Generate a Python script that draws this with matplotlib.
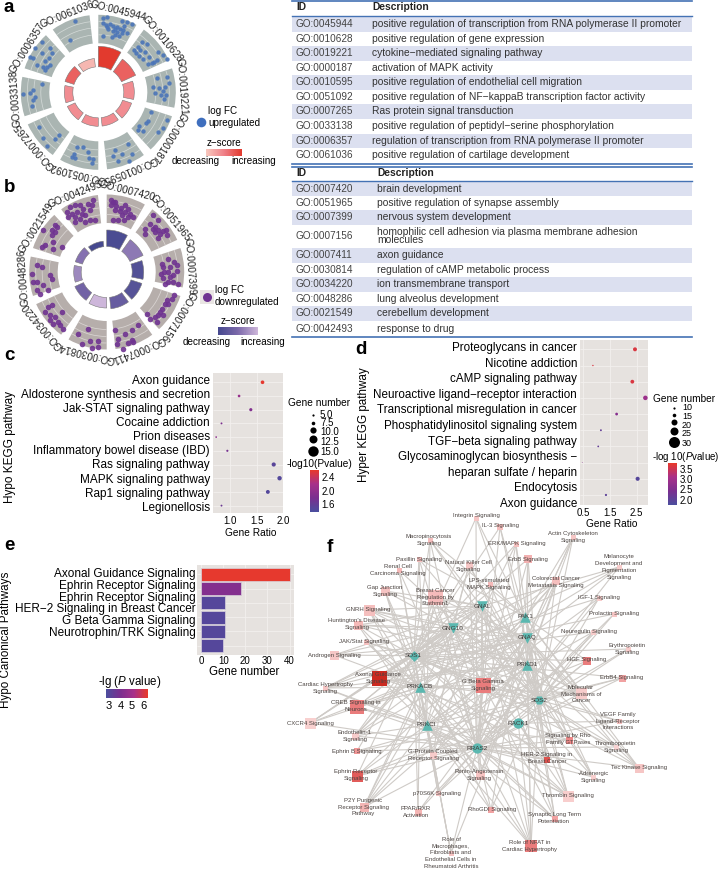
import numpy as np
import matplotlib
matplotlib.use('Agg')
import matplotlib.pyplot as plt
from matplotlib.patches import Wedge, Arc, Rectangle
from matplotlib.colors import LinearSegmentedColormap, Normalize
from matplotlib.cm import ScalarMappable

plt.rcParams['font.family'] = ['Liberation Sans', 'DejaVu Sans']
plt.rcParams['mathtext.fontset'] = 'custom'
plt.rcParams['mathtext.it'] = 'Liberation Sans:italic'
plt.rcParams['mathtext.rm'] = 'Liberation Sans'

# ---- GO tables
a_ids = ['GO:0045944', 'GO:0010628', 'GO:0019221', 'GO:0000187', 'GO:0010595',
         'GO:0051092', 'GO:0007265', 'GO:0033138', 'GO:0006357', 'GO:0061036']
a_desc = ['positive regulation of transcription from RNA polymerase II promoter',
          'positive regulation of gene expression',
          'cytokine\u2212mediated signaling pathway',
          'activation of MAPK activity',
          'positive regulation of endothelial cell migration',
          'positive regulation of NF\u2212kappaB transcription factor activity',
          'Ras protein signal transduction',
          'positive regulation of peptidyl\u2212serine phosphorylation',
          'regulation of transcription from RNA polymerase II promoter',
          'positive regulation of cartilage development']
b_ids = ['GO:0007420', 'GO:0051965', 'GO:0007399', 'GO:0007156', 'GO:0007411',
         'GO:0030814', 'GO:0034220', 'GO:0048286', 'GO:0021549', 'GO:0042493']
b_desc = ['brain development',
          'positive regulation of synapse assembly',
          'nervous system development',
          'homophilic cell adhesion via plasma membrane adhesion\nmolecules',
          'axon guidance',
          'regulation of cAMP metabolic process',
          'ion transmembrane transport',
          'lung alveolus development',
          'cerebellum development',
          'response to drug']

# ---- GO circles: bar height, z-score, dots (read in 3x crop coordinates)
a_bar = [46, 41, 36, 35, 34, 34, 34, 34, 35, 34]
a_z = [1.0, 0.72, 0.42, 0.42, 0.42, 0.42, 0.42, 0.42, 0.72, 0.12]
a_dot_x = [310, 322, 310, 318, 330, 340, 350, 360, 370, 380, 365, 395, 325, 338, 350, 365, 380, 310, 335, 345, 358, 320, 345, 372,
           425, 440, 415, 402, 420, 435, 418, 430, 448, 462, 455, 475, 490, 500, 445, 470, 408,
           500, 470, 460, 478, 495, 490, 498, 482, 492, 465, 508,
           452, 437, 418, 415, 430, 445, 488, 475, 500,
           385, 365, 340, 395, 388, 355, 345,
           232, 248, 222, 215, 225, 265, 280, 275, 268,
           118, 178, 165, 140, 128,
           125, 100, 90, 105, 70, 100, 95,
           125, 105, 150, 155, 148, 135, 125, 90, 110, 135, 128, 100, 140, 150,
           225, 210]
a_dot_y = [55, 52, 68, 75, 72, 78, 82, 88, 90, 65, 62, 72, 88, 92, 96, 100, 100, 108, 112, 105, 108, 80, 88, 78,
           125, 132, 140, 150, 150, 155, 168, 178, 170, 185, 190, 155, 165, 178, 192, 180, 158,
           232, 235, 262, 265, 262, 272, 285, 285, 298, 280, 250,
           337, 370, 378, 390, 392, 362, 385, 395, 360,
           432, 462, 468, 462, 482, 482, 450,
           440, 442, 462, 470, 475, 455, 478, 490, 475,
           382, 405, 418, 438, 415,
           252, 270, 278, 290, 283, 300, 318,
           127, 145, 145, 160, 175, 183, 160, 170, 195, 210, 200, 175, 200, 195,
           62, 120]

b_bar = [42, 40, 37, 37, 37, 36, 35, 33, 33, 31]
b_z = [0.05, 0.6, 0.12, 0.15, 0.3, 1.0, 0.4, 0.7, 0.55, 0.0]
b_dot_x = [333, 345, 332, 348, 362, 375, 385, 345, 360, 375, 390, 365, 385, 340, 355, 372, 398, 338,
           458, 475, 435, 450, 465, 458, 475, 465, 488, 498, 475, 480, 500, 435,
           505, 522, 530, 510, 485, 490, 482, 488, 505, 520, 530, 510, 520, 535, 495, 505, 492,
           522, 515, 500, 495, 485, 490, 475, 465, 440, 450, 470, 505, 480,
           375, 395, 415, 345, 355, 400, 370, 350, 385, 395,
           270, 275, 295, 293, 245, 235, 265,
           145, 155, 135, 150, 165, 185, 175, 190, 180, 160, 150,
           110, 95, 125, 150, 155, 100, 110, 130, 110, 120, 145,
           165, 155, 170, 165, 130, 155, 160, 135, 125, 160, 185,
           210, 225, 240, 250, 265, 275, 270, 200, 215, 230, 245, 255, 205, 225, 240, 255, 270, 285, 225, 280]
b_dot_y = [600, 605, 615, 618, 622, 615, 625, 630, 632, 635, 640, 645, 650, 658, 658, 660, 650, 605,
           645, 660, 685, 672, 680, 685, 690, 695, 692, 688, 712, 700, 705, 700,
           775, 785, 795, 800, 790, 800, 820, 832, 815, 825, 812, 830, 845, 850, 850, 845, 815,
           885, 895, 900, 912, 925, 945, 945, 950, 942, 955, 965, 910, 935,
           1000, 990, 975, 990, 1015, 1025, 1045, 1030, 1028, 1020,
           1023, 1042, 1040, 1023, 1032, 1000, 985,
           920, 915, 935, 945, 950, 935, 965, 985, 975, 970, 960,
           795, 820, 800, 825, 835, 845, 845, 855, 870, 880, 870,
           675, 690, 680, 695, 690, 705, 725, 735, 740, 745, 740,
           620, 615, 615, 625, 610, 615, 630, 635, 640, 635, 640, 645, 650, 650, 655, 665, 660, 660, 665, 600]

# ---- panel c
c_terms = ['Axon guidance', 'Aldosterone synthesis and secretion', 'Jak-STAT signaling pathway',
           'Cocaine addiction', 'Prion diseases', 'Inflammatory bowel disease (IBD)',
           'Ras signaling pathway', 'MAPK signaling pathway', 'Rap1 signaling pathway', 'Legionellosis']
c_ratio = [1.61, 1.17, 1.39, 0.84, 0.74, 0.95, 1.82, 1.93, 1.71, 0.84]
c_genes = [12.5, 9.1, 10.8, 6.5, 5.8, 7.4, 14.2, 15.0, 13.3, 6.5]
c_logp = [2.6, 2.05, 1.85, 1.8, 1.95, 1.75, 1.5, 1.45, 1.45, 1.65]
c_size_ticks = ['5.0', '7.5', '10.0', '12.5', '15.0']

# ---- panel d
d_labels = ['Proteoglycans in cancer', 'Nicotine addiction', 'cAMP signaling pathway',
            'Neuroactive ligand\u2212receptor interaction', 'Transcriptional misregulation in cancer',
            'Phosphatidylinositol signaling system', 'TGF\u2212beta signaling pathway',
            'Glycosaminoglycan biosynthesis \u2212', 'heparan sulfate / heparin',
            'Endocytosis', 'Axon guidance']
d_ratio = [2.44, 0.86, 2.34, 2.83, 1.75, 1.16, 1.06, 0.46, 2.54, 1.35]
d_genes = [27, 9.5, 26, 31, 19, 13, 12, 5, 28, 15]
d_logp = [3.6, 3.6, 3.6, 2.9, 2.6, 2.1, 2.1, 2.6, 1.9, 2.0]
d_size_ticks = ['10', '15', '20', '25', '30']

# ---- panel e
e_terms = ['Axonal Guidance Signaling', 'Ephrin Receptor Signaling', 'Ephrin Receptor Signaling',
           'HER\u22122 Signaling in Breast Cancer', 'G Beta Gamma Signaling', 'Neurotrophin/TRK Signaling']
e_genes = [40, 18, 11, 11, 11, 10]
e_logp = [6.3, 4.2, 3.0, 3.0, 3.0, 3.0]

# ---- panel f: gene nodes
gene_names = ['GNAL', 'PAK1', 'GNG10', 'GNAQ', 'SOS1', 'PRKD1', 'PRKACB', 'SOS2', 'PRKCI', 'RACK1', 'RRAS2']
gene_x = [482, 525, 453, 527, 413.7, 527, 420, 539, 426.7, 518.3, 477]
gene_y = [606, 617, 628, 638, 655.7, 665, 687, 700.3, 725, 723.3, 748]
gene_mark = ['v', '^', 'v', 'v', 'D', '^', '^', 'H', '^', 'o', 'o']

# ---- panel f: pathway nodes. links = letters of gene_names order (A=GNAL ... K=RRAS2)
path_names = ['Integrin Signaling', 'IL-3 Signaling', 'Macropinocytosis\nSignaling', 'Actin Cytoskeleton\nSignaling',
              'ERK/MAPK Signaling', 'ErbB Signaling', 'Paxillin Signaling', 'Renal Cell\nCarcinoma Signaling',
              'Natural Killer Cell\nSignaling', 'Melanocyte\nDevelopment and\nPigmentation\nSignaling',
              'Colorectal Cancer\nMetastasis Signaling', 'LPS-stimulated\nMAPK Signaling', 'Gap Junction\nSignaling',
              'Breast Cancer\nRegulation by\nStathmin1', 'IGF-1 Signaling', 'GNRH Signaling', 'Prolactin Signaling',
              "Huntington's Disease\nSignaling", 'Neuregulin Signaling', 'JAK/Stat Signaling',
              'Erythropoietin\nSignaling', 'Androgen Signaling', 'HGF Signaling', 'ErbB4 Signaling',
              'Axonal Guidance\nSignaling', 'G Beta Gamma\nSignaling', 'Cardiac Hypertrophy\nSignaling',
              'Molecular\nMechanisms of\nCancer', 'CREB Signaling in\nNeurons', 'CXCR4 Signaling',
              'Endothelin-1\nSignaling', 'Ephrin B Signaling', 'G-Protein Coupled\nReceptor Signaling',
              'Ephrin Receptor\nSignaling', 'Renin-Angiotensin\nSignaling', 'p70S6K Signaling',
              'P2Y Purigenic\nReceptor Signaling\nPathway', 'PPAR/RXR\nActivation', 'RhoGDI Signaling',
              'Thrombin Signaling', 'Synaptic Long Term\nPotentiation', 'Role of NFAT in\nCardiac Hypertrophy',
              'Role of\nMacrophages,\nFibroblasts and\nEndothelial Cells in\nRheumatoid Arthritis',
              '-Adrenergic\nSignaling', 'Tec Kinase Signaling', 'HER-2 Signaling in\nBreast Cancer',
              'Signaling by Rho\nFamily GTPases', 'Thrombopoietin\nSignaling', 'VEGF Family\nLigand-Receptor\nInteractions']
path_x = [476, 500, 430, 573, 516, 528, 419, 399, 469, 619, 556, 490, 385, 435, 599, 369, 614, 358, 593, 366, 628,
          334, 587, 622, 379, 483, 325, 581, 357, 310, 355, 357, 433, 357, 480, 438, 364, 418, 491, 568, 555, 531,
          451, 593, 639, 547, 569, 616, 619]
path_y = [518, 527, 540, 537, 544, 559, 559, 570, 565, 567, 581, 584, 591, 597, 598, 610, 614, 625, 632, 642, 649,
          655, 661, 678, 678, 685, 688, 693, 707, 723, 736, 751, 755, 776, 775, 793, 807, 812, 810, 796, 819, 846,
          853, 777, 768, 760, 740, 747, 721]
path_lx = [476, 501, 429, 573, 517, 528, 419, 398, 468, 619, 556, 489, 385, 435, 599, 368, 614, 357, 589, 364, 627,
           334, 587, 622, 378, 483, 325, 581, 356, 310, 355, 357, 433, 356, 479, 437, 363, 416, 492, 568, 554, 530,
           451, 593, 639, 547, 568, 616, 618]
path_ly = [515, 526, 540, 537, 544, 559, 559, 570, 566, 567, 582, 584, 591, 597, 598, 610, 614, 624, 632, 642, 649,
           655, 660, 677, 678, 685, 688, 694, 706, 723, 736, 751, 755, 775, 775, 793, 807, 812, 810, 796, 818, 846,
           853, 777, 768, 758, 739, 747, 721]
path_side = [5, 6, 5, 5, 5, 8, 5, 5, 7, 5, 8, 5, 9, 15, 5, 11, 5, 9, 5, 5, 5, 9, 8, 7, 15, 15, 5, 11, 14, 11, 7, 6,
             7, 11, 9, 5, 9, 7, 6, 11, 6, 12, 5, 5, 9, 6, 7, 5, 5]
path_score = [0.2, 0.25, 0.25, 0.2, 0.25, 0.35, 0.25, 0.3, 0.2, 0.15, 0.25, 0.3, 0.22, 0.28, 0.15, 0.25, 0.2, 0.3,
              0.15, 0.25, 0.15, 0.2, 0.6, 0.42, 1.0, 0.6, 0.2, 0.15, 0.6, 0.12, 0.15, 0.48, 0.15, 0.75, 0.22, 0.2,
              0.33, 0.33, 0.42, 0.14, 0.42, 0.6, 0.22, 0.14, 0.2, 0.8, 0.55, 0.1, 0.25]
path_links = ['BEHK', 'EHKB', 'BEHKIF', 'BHFKD', 'EHKIF', 'EHKBF', 'BEHKI', 'EHKG', 'EHKIFC', 'AGDKE', 'EHKBGIF', 'EHKB',
              'CAGDEI', 'ACDGEHK', 'EHKI', 'ACDGEHIF', 'EHK', 'ACGDEIF', 'EHKI', 'EHKG', 'EHK', 'ACDEG', 'EHKBI', 'EHKI',
              'ABCDEFGHIJK', 'ABCDEFGHIK', 'ACDGIFEK', 'ABCDEFGHK', 'ACDGIFK', 'ACDEGK', 'ACDGIEK', 'EHKJ', 'ACDGIFK',
              'EHKJIB', 'ADGIFK', 'EHKI', 'ACDGIFK', 'GKFE', 'BEHKI', 'ACDGEHIK', 'ACGDKIF', 'ACDGHIFJK', 'GKFIE',
              'ACDGKF', 'EHKFDB', 'EHKJIB', 'BKHJI', 'EHKD', 'EHKJ']

panel_bg = '#E6E2DF'
grid_col = '#F3F0EE'
line_blue = '#4472B4'
shade_blue = '#DCE0F0'
hot_cmap = LinearSegmentedColormap.from_list('hot', ['#4B4E9E', '#7A2F8F', '#A8308A', '#E8392B'])
red_cmap = LinearSegmentedColormap.from_list('reds', ['#F8C8BE', '#F08088', '#E23A2E'])
pur_cmap = LinearSegmentedColormap.from_list('purs', ['#46498F', '#7D6AAB', '#CDB6DA'])
node_cmap = LinearSegmentedColormap.from_list('nodes', ['#FAE0DE', '#F4B4B4', '#E86E6E', '#CC2A20'])

fig = plt.figure(figsize=(7.2, 8.76), dpi=100)
W, H = 720.0, 876.0


def px_rect(l, t, r, b):
    return [l / W, 1 - b / H, (r - l) / W, (b - t) / H]


page = fig.add_axes([0, 0, 1, 1], zorder=0)
page.set_xlim(0, W)
page.set_ylim(H, 0)
page.axis('off')

# panel letters
for ch, x, y in [('a', 9, 8), ('b', 10, 188), ('c', 9, 356), ('d', 361, 350), ('e', 9, 545), ('f', 330, 548)]:
    page.text(x, y, ch, fontsize=13.5, fontweight='bold', ha='center', va='center')


def draw_table(ids, desc, top_line, head_line, bounds, head_y, desc_x):
    for i in range(len(ids)):
        if i % 2 == 0:
            page.add_patch(Rectangle((292, bounds[i]), 400, bounds[i + 1] - bounds[i], fc=shade_blue, ec='none'))
        cy = (bounds[i] + bounds[i + 1]) / 2
        page.text(296, cy, ids[i], fontsize=7.2, color='#444444', va='center')
        page.text(desc_x, cy, desc[i], fontsize=7.4, color='#333333', va='center', linespacing=0.8)
    page.text(296, head_y, 'ID', fontsize=7.4, fontweight='bold', va='center', color='#222222')
    page.text(desc_x, head_y, 'Description', fontsize=7.4, fontweight='bold', va='center', color='#222222')
    page.plot([292, 692], [top_line, top_line], color=line_blue, lw=1.2)
    page.plot([292, 692], [head_line, head_line], color=line_blue, lw=1.0)


draw_table(a_ids, a_desc, 1.2, 15.5, [16, 31.5, 46, 60.5, 75, 89.5, 104, 118.5, 133.5, 148, 162.5], 7.5, 372)
draw_table(b_ids, b_desc, 166.8, 181, [181.5, 195.5, 210, 224.5, 247.5, 262.5, 277, 291.5, 306, 321, 336], 172.7, 377)
page.plot([292, 692], [163.6, 163.6], color=line_blue, lw=1.2)
page.plot([292, 692], [336.7, 336.7], color=line_blue, lw=1.2)


def draw_circle(cx, cy, ids, bars, zs, dots_x, dots_y, zx, zy, ring_col, arc_col, dot_col, dot_s, cmap):
    R = 92
    ax = fig.add_axes(px_rect(cx - R, cy - R, cx + R, cy + R), zorder=2)
    ax.set_xlim(-R, R)
    ax.set_ylim(-R, R)
    ax.axis('off')
    ax.patch.set_alpha(0)
    for i in range(10):
        a0 = 36 * i
        a1 = a0 + 29.5
        ax.add_patch(Wedge((0, 0), 77.5, 90 - a1, 90 - a0, width=28.5, fc=ring_col, ec='none'))
        for rr in [57.5, 64.5, 71]:
            ax.add_patch(Arc((0, 0), 2 * rr, 2 * rr, theta1=90 - a1, theta2=90 - a0, color=arc_col, lw=0.55))
        ax.add_patch(Wedge((0, 0), bars[i], 90 - a1, 90 - a0, width=bars[i] - 25.5, fc=cmap(zs[i]), ec='#7a7a7a', lw=0.4))
        mid = np.radians(a0 + 14)
        ax.text(83.5 * np.sin(mid), 83.5 * np.cos(mid), ids[i], rotation=-(a0 + 14), rotation_mode='anchor',
                ha='center', va='center', fontsize=7.2, color='#222222')
    ax.scatter((np.array(dots_x) - zx) / 3, (zy - np.array(dots_y)) / 3, s=dot_s, color=dot_col, alpha=0.9, lw=0)


draw_circle(98.3, 92.3, a_ids, a_bar, a_z, a_dot_x, a_dot_y, 295, 277, '#AAB5B2', '#D2D8D6', '#4A74B8', 10, red_cmap)
draw_circle(106.7, 272, b_ids, b_bar, b_z, b_dot_x, b_dot_y, 320, 815, '#B6AEAB', '#DAD5D3', '#6F3391', 16, pur_cmap)

# circle legends
page.scatter([200.7], [121.7], s=48, color='#3F6FBE', lw=0)
page.text(208, 110.7, 'log FC', fontsize=7.1, va='center')
page.text(208, 123, 'upregulated', fontsize=7.1, va='center')
page.text(224, 142.7, 'z\u2212score', fontsize=7.1, va='center', ha='center')
page.text(196, 161, 'decreasing', fontsize=7.1, va='center', ha='center')
page.text(254, 161, 'increasing', fontsize=7.1, va='center', ha='center')
page.add_patch(Rectangle((200, 290), 14, 14, fc='#E9E5E3', ec='none'))
page.scatter([207], [297], s=42, color='#6F3391', lw=0, zorder=3)
page.text(215, 290, 'log FC', fontsize=7.1, va='center')
page.text(215, 302, 'downregulated', fontsize=7.1, va='center')
page.text(238, 321, 'z\u2212score', fontsize=7.1, va='center', ha='center')
page.text(207, 342, 'decreasing', fontsize=7.1, va='center', ha='center')
page.text(263, 342, 'increasing', fontsize=7.1, va='center', ha='center')
grad = np.linspace(0, 1, 64).reshape(1, -1)
for rect, cm in [(px_rect(206, 149, 241.7, 156), red_cmap), (px_rect(218, 327, 258, 335), pur_cmap)]:
    gx = fig.add_axes(rect, zorder=2)
    gx.imshow(grad, cmap=cm, aspect='auto')
    gx.axis('off')


def style_axes(ax, xt, xtl, xlim, ylim):
    ax.set_facecolor(panel_bg)
    for s in ax.spines.values():
        s.set_visible(False)
    ax.set_xlim(*xlim)
    ax.set_ylim(*ylim)
    ax.set_xticks(xt, xtl, fontsize=7)
    ax.grid(axis='x', color=grid_col, lw=0.6)
    ax.set_axisbelow(True)
    ax.tick_params(length=0, pad=2)


def colorbar(rect, lo, hi, ticks, orient='vertical', fs=7):
    cax = fig.add_axes(rect, zorder=2)
    sm = ScalarMappable(Normalize(lo, hi), hot_cmap)
    cb = fig.colorbar(sm, cax=cax, orientation=orient)
    cb.set_ticks(ticks)
    cb.ax.tick_params(length=0, labelsize=fs, pad=2)
    cb.outline.set_visible(False)
    return cb


# ---- panel c
axc = fig.add_axes(px_rect(212.7, 373.3, 283.3, 513.3), zorder=1)
style_axes(axc, [1.0, 1.5, 2.0], ['1.0', '1.5', '2.0'], (0.675, 2.0), (9.56, -0.655))
axc.hlines(range(10), 0.675, 2.0, color=grid_col, lw=0.6, zorder=1)
axc.scatter(c_ratio, range(10), s=10 * (np.array(c_genes) / 15) ** 2, c=c_logp, cmap=hot_cmap, vmin=1.37, vmax=2.62,
            lw=0, zorder=3, clip_on=False)
axc.set_yticks([i + (-9 + 1.2 * i) / 41.2 for i in range(10)], c_terms, fontsize=8.5)
page.text(10, 447, 'Hypo KEGG pathway', rotation=90, fontsize=8.5, ha='center', va='center')
page.text(250.7, 532.7, 'Gene Ratio', fontsize=7.3, ha='center', va='center')
page.text(288, 402.7, 'Gene number', fontsize=7.3, va='center')
for v, y, d in zip(c_size_ticks, [415, 423.3, 430, 439.3, 451], [2.2, 3.6, 6.2, 8, 10.4]):
    page.scatter([312.7], [y], s=(d * 0.72) ** 2, color='k', lw=0)
for v, y in zip(c_size_ticks, [415, 423.3, 432.3, 441.7, 451.7]):
    page.text(320, y, v, fontsize=7, va='center')
page.text(287, 464, '-log10(Pvalue)', fontsize=7.3, va='center')
colorbar(px_rect(310, 470, 319, 511.7), 1.37, 2.62, [1.6, 2.0, 2.4])

# ---- panel d
axd = fig.add_axes(px_rect(580, 340, 648.3, 505), zorder=1)
style_axes(axd, [0.5, 1.5, 2.5], ['0.5', '1.5', '2.5'], (0.375, 2.94), (9.62, -0.576))
axd.hlines(range(10), 0.375, 2.94, color=grid_col, lw=0.6, zorder=1)
axd.scatter(d_ratio, range(10), s=10 * (np.array(d_genes) / 30) ** 2, c=d_logp, cmap=hot_cmap, vmin=1.74, vmax=3.76,
            lw=0, zorder=3, clip_on=False)
axd.set_yticks([(50 + 46.8 * i - 58) / 48.6 for i in range(11)], d_labels, fontsize=8.4)
page.text(364, 425, 'Hyper KEGG pathway', rotation=90, fontsize=8.4, ha='center', va='center')
page.text(612, 524, 'Gene Ratio', fontsize=7.3, ha='center', va='center')
page.text(653, 399, 'Gene number', fontsize=7.3, va='center')
for v, y, d in zip(d_size_ticks, [408.3, 415.3, 422.3, 430.7, 442.3], [2.2, 3.6, 6, 8, 11]):
    page.scatter([674], [y], s=(d * 0.72) ** 2, color='k', lw=0)
for v, y in zip(d_size_ticks, [407.8, 416.3, 425, 434, 444]):
    page.text(682, y, v, fontsize=6.5, va='center')
page.text(651.5, 457, '-log 10($\\it{P}$value)', fontsize=7, va='center')
colorbar(px_rect(668.3, 463.3, 676.7, 505), 1.74, 3.76, [2.0, 2.5, 3.0, 3.5])

# ---- panel e
axe = fig.add_axes(px_rect(196.7, 565, 294, 655), zorder=1)
style_axes(axe, [0, 10, 20, 30, 40], ['0', '10', '20', '30', '40'], (-2, 42), (5.64, -0.64))
axe.tick_params(pad=1)
e_norm = Normalize(2.74, 6.35)
axe.barh(range(6), e_genes, height=0.9, color=hot_cmap(e_norm(e_logp)), edgecolor='#D8D2DC', lw=0.5, zorder=2)
axe.hlines(range(6), -2, 42, color=grid_col, lw=0.6, zorder=1)
axe.set_yticks([(130 + 42.6 * i - 137.5) / 51 for i in range(6)], e_terms, fontsize=8.45)
page.text(5.7, 640, 'Hypo Canonical Pathways', rotation=90, fontsize=8.4, ha='center', va='center')
page.text(244, 672, 'Gene number', fontsize=8.3, ha='center', va='center')
page.text(129.3, 681.7, '-lg ($\\it{P}$ value)', fontsize=8.3, ha='center', va='center')
cb = colorbar(px_rect(106, 689.3, 147.7, 698), 2.74, 6.35, [3, 4, 5, 6], orient='horizontal', fs=8)

# ---- panel f: edges, nodes, labels
for i, links in enumerate(path_links):
    for letter in links:
        g = ord(letter) - ord('A')
        page.plot([path_x[i], gene_x[g]], [path_y[i], gene_y[g]], color='#CFCBC7', lw=0.8, zorder=1,
                  solid_capstyle='round')
page.scatter(path_x, path_y, s=[(s * 0.72) ** 2 for s in path_side], marker='s',
             c=[node_cmap(v) for v in path_score], lw=0, zorder=2)
mark_s = {'v': 58, '^': 58, 'D': 30, 'H': 45, 'o': 55}
for m in mark_s:
    idx = [i for i in range(len(gene_mark)) if gene_mark[i] == m]
    page.scatter([gene_x[i] for i in idx], [gene_y[i] for i in idx], s=mark_s[m], marker=m, color='#5BB8B0', lw=0, zorder=2)
for i, name in enumerate(path_names):
    page.text(path_lx[i], path_ly[i], name, fontsize=4.35, color='#4A4340', ha='center', va='center',
              linespacing=1.48, zorder=3)
for i, name in enumerate(gene_names):
    page.text(gene_x[i], gene_y[i], name, fontsize=4.6, color='#3F3A38', ha='center', va='center', zorder=3)

fig.savefig('out.png', dpi=100)
